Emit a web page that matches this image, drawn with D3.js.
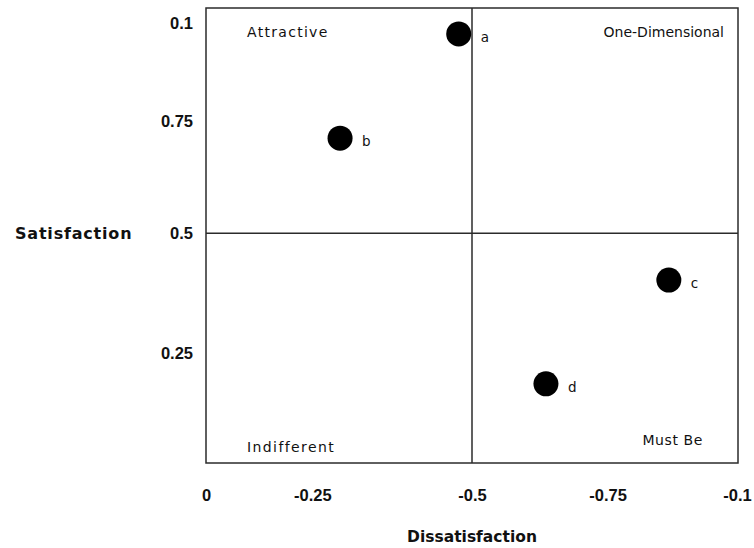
<!DOCTYPE html>
<html>
<head>
<meta charset="utf-8">
<script src="https://cdn.jsdelivr.net/npm/d3@7"></script>
<style>
  html, body { margin: 0; padding: 0; background: #fff; }
  svg { display: block; }
</style>
</head>
<body>
<svg id="chart" width="754" height="548"></svg>
<script>
// ---- data ----
const pointNames = ["a", "b", "c", "d"];
const dissatisfaction = [-0.475, -0.252, -0.87, -0.639];
const satisfaction = [0.943, 0.714, 0.402, 0.174];

const xTickLabels = ["0", "-0.25", "-0.5", "-0.75", "-0.1"];
const xTickAt = [0, -0.2, -0.5, -0.755, -0.998];
const yTickLabels = ["0.1", "0.75", "0.5", "0.25"];
const yTickAt = [0.967, 0.752, 0.505, 0.242];

const quadrantNames = ["Attractive", "One-Dimensional", "Indifferent", "Must Be"];

// ---- layout ----
const svg = d3.select("#chart");
const plotLeft = 206, plotRight = 738, plotTop = 8, plotBottom = 463;

const x = d3.scaleLinear().domain([0, -1]).range([plotLeft, plotRight]);
const y = d3.scaleLinear().domain([0, 1]).range([plotBottom, plotTop]);

const tickFont = "'Liberation Sans', Arial, sans-serif";
const handFont = "'DejaVu Sans', sans-serif";

// plot frame
svg.append("rect")
  .attr("x", x(0)).attr("y", y(1))
  .attr("width", x(-1) - x(0)).attr("height", y(0) - y(1))
  .attr("fill", "none").attr("stroke", "#2b2b2b").attr("stroke-width", 1.5);

// quadrant dividers
svg.append("line")
  .attr("x1", x(-0.5)).attr("x2", x(-0.5)).attr("y1", y(1)).attr("y2", y(0))
  .attr("stroke", "#2b2b2b").attr("stroke-width", 1.5);
svg.append("line")
  .attr("x1", x(0)).attr("x2", x(-1)).attr("y1", y(0.505)).attr("y2", y(0.505))
  .attr("stroke", "#2b2b2b").attr("stroke-width", 1.5);

// x axis (labels only)
const xAxis = d3.axisBottom(x)
  .tickValues(xTickAt)
  .tickSize(0)
  .tickPadding(0)
  .tickFormat((d, i) => xTickLabels[i]);
const gx = svg.append("g").attr("transform", `translate(0, ${plotBottom + 26})`).call(xAxis);
gx.select(".domain").remove();
gx.selectAll("text")
  .attr("font-family", tickFont).attr("font-size", 16.5).attr("font-weight", 600)
  .attr("fill", "#111");

// y axis (labels only)
const yAxis = d3.axisLeft(y)
  .tickValues(yTickAt)
  .tickSize(0)
  .tickPadding(0)
  .tickFormat((d, i) => yTickLabels[i]);
const gy = svg.append("g").attr("transform", `translate(${plotLeft - 13}, 0)`).call(yAxis);
gy.select(".domain").remove();
gy.selectAll("text")
  .attr("font-family", tickFont).attr("font-size", 16.5).attr("font-weight", 600)
  .attr("fill", "#111");

// axis titles
svg.append("text")
  .attr("x", 15).attr("y", y(0.505)).attr("dy", "0.35em")
  .attr("font-family", handFont).attr("font-size", 16).attr("font-weight", "bold")
  .attr("letter-spacing", 0.8)
  .attr("fill", "#111")
  .text("Satisfaction");
svg.append("text")
  .attr("x", x(-0.5)).attr("y", 537).attr("dy", "0.35em")
  .attr("text-anchor", "middle")
  .attr("font-family", handFont).attr("font-size", 15.5).attr("font-weight", "bold")
  .attr("fill", "#111")
  .text("Dissatisfaction");

// quadrant labels
const qPos = [
  { x: x(0) + 41, y: y(1) + 24, anchor: "start", ls: 1.3 },
  { x: x(-1) - 14, y: y(1) + 24, anchor: "end", ls: 0 },
  { x: x(0) + 41, y: y(0) - 16, anchor: "start", ls: 1.4 },
  { x: x(-1) - 35, y: y(0) - 23, anchor: "end", ls: 0.6 }
];
svg.selectAll("text.quad").data(quadrantNames).join("text")
  .attr("class", "quad")
  .attr("x", (d, i) => qPos[i].x).attr("y", (d, i) => qPos[i].y)
  .attr("dy", "0.35em")
  .attr("text-anchor", (d, i) => qPos[i].anchor)
  .attr("letter-spacing", (d, i) => qPos[i].ls)
  .attr("font-family", handFont).attr("font-size", 14)
  .attr("fill", "#111")
  .text(d => d);

// points
const pts = pointNames.map((n, i) => ({ name: n, x: dissatisfaction[i], y: satisfaction[i] }));
svg.selectAll("circle.pt").data(pts).join("circle")
  .attr("class", "pt")
  .attr("cx", d => x(d.x)).attr("cy", d => y(d.y))
  .attr("r", 12.5)
  .attr("fill", "#000");
svg.selectAll("text.ptlabel").data(pts).join("text")
  .attr("class", "ptlabel")
  .attr("x", d => x(d.x) + 22).attr("y", d => y(d.y) + 3)
  .attr("dy", "0.35em")
  .attr("font-family", handFont).attr("font-size", 13.5)
  .attr("fill", "#111")
  .text(d => d.name);
</script>
</body>
</html>
